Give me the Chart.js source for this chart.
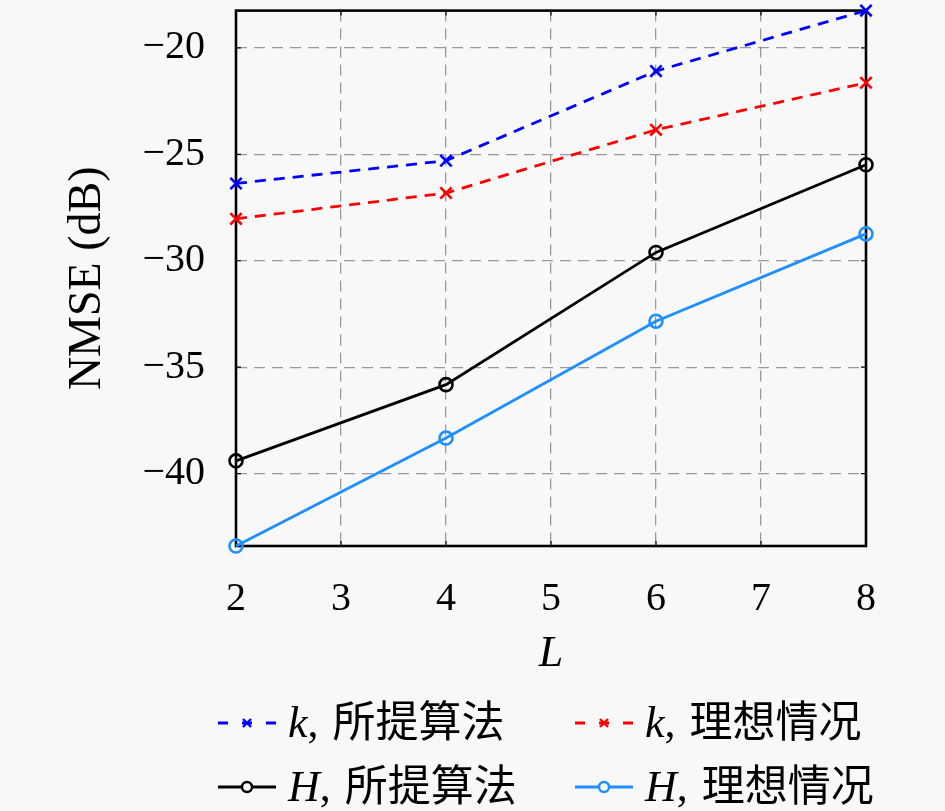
<!DOCTYPE html>
<html>
<head>
<meta charset="utf-8">
<script src="https://cdn.jsdelivr.net/npm/chart.js@4.4.1/dist/chart.umd.min.js"></script>
<style>
  html, body { margin: 0; padding: 0; background: #f8f8f8; }
  #wrap { width: 945px; height: 811px; }
</style>
</head>
<body>
<div id="wrap"><canvas id="c" width="945" height="811"></canvas></div>
<script>
// ---- data ----
const L = [2, 4, 6, 8];
const kProposed = [-26.37, -25.30, -21.09, -18.25];
const kIdeal    = [-28.03, -26.82, -23.85, -21.64];
const hProposed = [-39.40, -35.82, -29.61, -25.49];
const hIdeal    = [-43.40, -38.33, -32.84, -28.74];
const seriesLabels = ['k, 所提算法', 'k, 理想情况', 'H, 所提算法', 'H, 理想情况'];
const xTicks = [2, 3, 4, 5, 6, 7, 8];
const yTicks = [-40, -35, -30, -25, -20];
const xTitle = 'L';
const yTitle = 'NMSE (dB)';

const SERIF = '"Liberation Serif", "DejaVu Serif", serif';
const CJK = '"Noto Sans CJK SC", "Noto Sans", sans-serif';

function pts(ys) { return L.map((x, i) => ({ x: x, y: ys[i] })); }

const styles = [
  { color: '#0000ff', dash: [11, 8], point: 'crossRot', r: 8 },
  { color: '#ff0000', dash: [11, 8], point: 'crossRot', r: 8 },
  { color: '#000000', dash: [], point: 'circle', r: 6.5 },
  { color: '#1e8fff', dash: [], point: 'circle', r: 6.5 }
];
const seriesData = [kProposed, kIdeal, hProposed, hIdeal];

const datasets = seriesData.map((d, i) => ({
  label: seriesLabels[i],
  data: pts(d),
  borderColor: styles[i].color,
  backgroundColor: '#f8f8f8',
  borderWidth: 2.8,
  borderDash: styles[i].dash,
  pointStyle: styles[i].point,
  pointRadius: styles[i].r,
  pointBorderWidth: 2.6,
  pointBorderColor: styles[i].color,
  pointBackgroundColor: 'rgba(0,0,0,0)',
  tension: 0,
  clip: false
}));

const framePlugin = {
  id: 'frame',
  beforeDraw(chart) {
    const ctx = chart.ctx;
    ctx.save();
    ctx.fillStyle = '#f8f8f8';
    ctx.fillRect(0, 0, chart.width, chart.height);
    ctx.restore();
  },
  beforeDatasetsDraw(chart) {
    const { ctx, chartArea: a, scales } = chart;
    ctx.save();
    ctx.strokeStyle = '#000';
    ctx.setLineDash([]);
    const tl = 5;
    ctx.lineWidth = 1.2;
    scales.x.ticks.forEach(t => {
      const px = scales.x.getPixelForValue(t.value);
      ctx.beginPath();
      ctx.moveTo(px, a.bottom); ctx.lineTo(px, a.bottom - tl);
      ctx.moveTo(px, a.top); ctx.lineTo(px, a.top + tl);
      ctx.stroke();
    });
    scales.y.ticks.forEach(t => {
      const py = scales.y.getPixelForValue(t.value);
      ctx.beginPath();
      ctx.moveTo(a.left, py); ctx.lineTo(a.left + tl, py);
      ctx.moveTo(a.right, py); ctx.lineTo(a.right - tl, py);
      ctx.stroke();
    });
    ctx.lineWidth = 2.6;
    ctx.strokeRect(a.left, a.top, a.right - a.left, a.bottom - a.top);
    ctx.restore();
  },
  afterDraw(chart) {
    const ctx = chart.ctx;
    const cols = [218, 575];
    const rows = [723, 787];
    const sampleW = 58;
    chart.data.datasets.forEach((ds, i) => {
      const x0 = cols[i % 2];
      const y = rows[Math.floor(i / 2)];
      ctx.save();
      ctx.strokeStyle = ds.borderColor;
      ctx.lineWidth = 2.8;
      ctx.setLineDash(ds.borderDash.length ? [10, 14] : []);
      ctx.beginPath();
      ctx.moveTo(x0, y); ctx.lineTo(x0 + sampleW, y);
      ctx.stroke();
      ctx.setLineDash([]);
      ctx.lineWidth = 2.4;
      const cx = x0 + sampleW / 2;
      if (ds.pointStyle === 'circle') {
        ctx.fillStyle = '#f8f8f8';
        ctx.beginPath(); ctx.arc(cx, y, 5, 0, Math.PI * 2); ctx.fill(); ctx.stroke();
      } else {
        const s = 4;
        ctx.beginPath();
        ctx.moveTo(cx - s, y - s); ctx.lineTo(cx + s, y + s);
        ctx.moveTo(cx - s, y + s); ctx.lineTo(cx + s, y - s);
        ctx.stroke();
      }
      const parts = ds.label.split(', ');
      let tx = x0 + sampleW + 12;
      ctx.fillStyle = '#000';
      ctx.textBaseline = 'alphabetic';
      const base = y + 14;
      ctx.font = 'italic 44px ' + SERIF;
      ctx.fillText(parts[0], tx, base);
      tx += ctx.measureText(parts[0]).width;
      ctx.font = '44px ' + SERIF;
      ctx.fillText(',', tx, base);
      tx += ctx.measureText(', ').width + 3;
      ctx.font = '43px ' + CJK;
      ctx.fillText(parts[1], tx, base);
      ctx.restore();
    });
  }
};

new Chart(document.getElementById('c'), {
  type: 'line',
  data: { datasets: datasets },
  options: {
    responsive: false,
    animation: false,
    devicePixelRatio: 1,
    layout: { padding: { left: 0, top: 9, right: 79, bottom: 130 } },
    plugins: { legend: { display: false }, tooltip: { enabled: false } },
    scales: {
      x: {
        type: 'linear',
        min: 2, max: 8,
        afterBuildTicks: s => { s.ticks = xTicks.map(v => ({ value: v })); },
        afterFit: s => { s.height = 135; s.paddingLeft = 0; s.paddingRight = 0; s.paddingTop = 0; s.paddingBottom = 0; },
        grid: { color: '#999999', lineWidth: 1.3, drawTicks: false },
        border: { display: false, dash: [11, 7] },
        ticks: {
          padding: 29,
          color: '#000',
          font: { family: SERIF, size: 40 },
          maxRotation: 0,
          callback: v => String(v)
        },
        title: {
          display: true, text: xTitle, color: '#000',
          font: { family: SERIF, size: 44, style: 'italic' },
          padding: { top: 0, bottom: 0 }
        }
      },
      y: {
        type: 'linear',
        min: -43.4, max: -18.25,
        afterBuildTicks: s => { s.ticks = yTicks.map(v => ({ value: v })); },
        afterFit: s => { s.width = 236; s.paddingTop = 0; s.paddingBottom = 0; s.paddingLeft = 0; s.paddingRight = 0; },
        grid: { color: '#999999', lineWidth: 1.3, drawTicks: false },
        border: { display: false, dash: [11, 7] },
        ticks: {
          padding: 31,
          color: '#000',
          font: { family: SERIF, size: 40 },
          callback: v => (v < 0 ? '\u2212' : '') + Math.abs(v)
        },
        title: {
          display: true, text: yTitle, color: '#000',
          font: { family: SERIF, size: 46 },
          padding: { top: 60, bottom: 0 }
        }
      }
    }
  },
  plugins: [framePlugin]
});
</script>
</body>
</html>
